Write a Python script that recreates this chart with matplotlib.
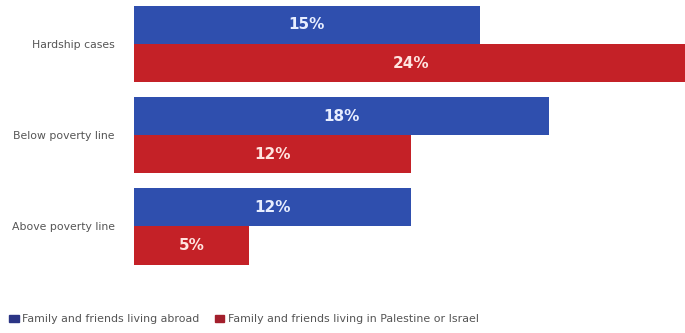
import matplotlib.pyplot as plt
from matplotlib.patches import Patch
import numpy as np

categories = ['Hardship cases', 'Below poverty line', 'Above poverty line']
abroad = [15, 18, 12]
palestine = [24, 12, 5]
series_names = ['Family and friends living abroad',
                'Family and friends living in Palestine or Israel']

blue = '#2f4fae'
red = '#c42127'

fig = plt.figure(figsize=(6.85, 3.33), dpi=100)
ax = fig.add_axes([134 / 685, 1 - 280 / 333, 1 - 134 / 685, 280 / 333])

y = np.arange(len(categories))
h = 0.42
ax.barh(y - h / 2, abroad, height=h, color=blue)
ax.barh(y + h / 2, palestine, height=h, color=red)

ax.set_xlim(0, 23.9)
ax.set_ylim(2.59, -0.484)

# value labels in the middle of each bar
for i, v in enumerate(abroad):
    ax.text(v / 2, i - h / 2, f'{v}%', ha='center', va='center',
            color='#e8eeff', fontsize=11, fontweight='bold')
for i, v in enumerate(palestine):
    ax.text(v / 2, i + h / 2, f'{v}%', ha='center', va='center',
            color='#ffe4e0', fontsize=11, fontweight='bold')

ax.set_yticks(y)
ax.set_yticklabels(categories, fontsize=7.8, color='#555555')
ax.tick_params(axis='y', length=0, pad=14)
ax.set_xticks([])
for s in ax.spines.values():
    s.set_visible(False)

handles = [Patch(color='#2b3585'), Patch(color='#a31f2c')]
fig.legend(handles, series_names, loc='lower left', bbox_to_anchor=(0.0, 0.0),
           ncol=2, frameon=False, fontsize=7.9, labelcolor='#555555',
           handlelength=0.9, handleheight=0.6, handletextpad=0.3,
           columnspacing=1.4, borderaxespad=0.4)

plt.savefig('out.png', dpi=100)
